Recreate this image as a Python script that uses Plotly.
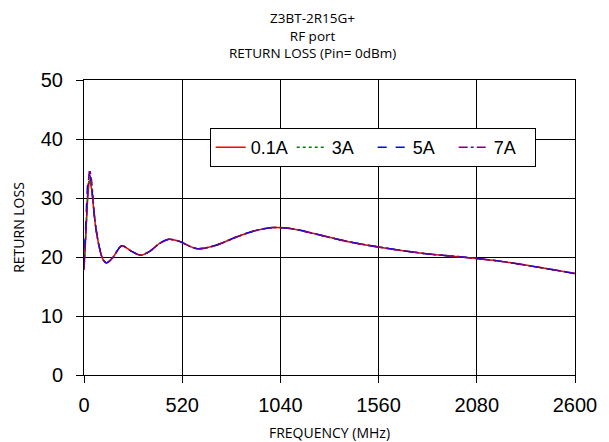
import plotly.graph_objects as go

freq = [0.1, 10, 20, 30, 40, 50, 60, 80, 100, 120, 150, 200, 250, 300, 350, 400, 450, 500,
        600, 700, 800, 900, 1000, 1100, 1200, 1400, 1600, 1800, 2000, 2200, 2400, 2600]

rl_01a = [18.0, 24.0, 30.0, 33.0, 31.5, 28.5, 25.5, 21.8, 19.6, 19.0, 19.8, 21.9, 21.0, 20.3, 21.0,
          22.3, 23.0, 22.7, 21.4, 22.0, 23.3, 24.4, 25.0, 24.8, 24.1, 22.6, 21.5, 20.6, 20.0, 19.3, 18.3, 17.2]
rl_3a = [18.2, 24.5, 31.0, 33.5, 31.8, 28.6, 25.5, 21.8, 19.6, 19.0, 19.8, 21.9, 21.0, 20.3, 21.0,
         22.3, 23.0, 22.7, 21.4, 22.0, 23.3, 24.4, 25.0, 24.8, 24.1, 22.6, 21.5, 20.6, 20.0, 19.3, 18.3, 17.2]
rl_5a = [18.5, 26.0, 32.5, 34.0, 32.0, 28.7, 25.5, 21.8, 19.6, 19.0, 19.8, 21.9, 21.0, 20.3, 21.0,
         22.3, 23.0, 22.7, 21.4, 22.0, 23.3, 24.4, 25.0, 24.8, 24.1, 22.6, 21.5, 20.6, 20.0, 19.3, 18.3, 17.2]
rl_7a = [17.8, 24.0, 31.0, 34.8, 33.0, 29.0, 25.7, 21.8, 19.6, 19.0, 19.8, 21.9, 21.0, 20.3, 21.0,
         22.3, 23.0, 22.7, 21.4, 22.0, 23.3, 24.4, 25.0, 24.8, 24.1, 22.6, 21.5, 20.6, 20.0, 19.3, 18.3, 17.2]

series_names = ["0.1A", "3A", "5A", "7A"]
series_vals = [rl_01a, rl_3a, rl_5a, rl_7a]
colors = ["#ff0000", "#008000", "#0000ff", "#800080"]
dashes = ["solid", "dot", "dash", "dashdot"]

x_ticks = [0, 520, 1040, 1560, 2080, 2600]
y_ticks = [0, 10, 20, 30, 40, 50]

title_lines = ["Z3BT-2R15G+", "RF port", "RETURN LOSS (Pin= 0dBm)"]

fig = go.Figure()
for name, vals, c, d in zip(series_names, series_vals, colors, dashes):
    fig.add_trace(go.Scatter(x=freq, y=vals, mode="lines", name=name,
                             line=dict(color=c, dash=d, width=1.5, shape="spline", smoothing=0.8)))

axis_common = dict(showgrid=True, gridcolor="black", gridwidth=1, showline=True,
                   linecolor="black", linewidth=1, mirror=True, zeroline=False,
                   ticks="outside", ticklen=7, tickcolor="black", tickwidth=1,
                   automargin=False,
                   tickfont=dict(family="Liberation Sans, Arial", size=20, color="black"))

label_font = dict(family="Open Sans, Noto Sans", size=14, color="black")

fig.update_layout(
    width=601, height=434,
    margin=dict(l=76, r=34, t=72, b=67),
    paper_bgcolor="white", plot_bgcolor="white",
    xaxis=dict(range=[0, 2600], tickvals=x_ticks, ticktext=[str(v) for v in x_ticks],
               ticklabelstandoff=5,
               title=dict(text="FREQUENCY (MHz)", standoff=16, font=label_font),
               **axis_common),
    yaxis=dict(range=[0, 50], tickvals=y_ticks, ticktext=[str(v) for v in y_ticks],
               ticklabelstandoff=9,
               title=dict(text="RETURN LOSS", standoff=12, font=label_font),
               **axis_common),
    legend=dict(orientation="h", x=0.256, y=0.837, xanchor="left", yanchor="top",
                bgcolor="white", bordercolor="black", borderwidth=1, entrywidth=36,
                font=dict(family="Liberation Sans, Arial", size=18, color="black")),
    showlegend=True,
)

fig.add_annotation(text="<br>".join(title_lines), xref="paper", yref="paper",
                   x=0.466, y=1, xanchor="center", yanchor="bottom", yshift=16,
                   showarrow=False, align="center",
                   font=dict(family="Open Sans, Noto Sans", size=13.5, color="black"))

fig.write_html("out.html")
